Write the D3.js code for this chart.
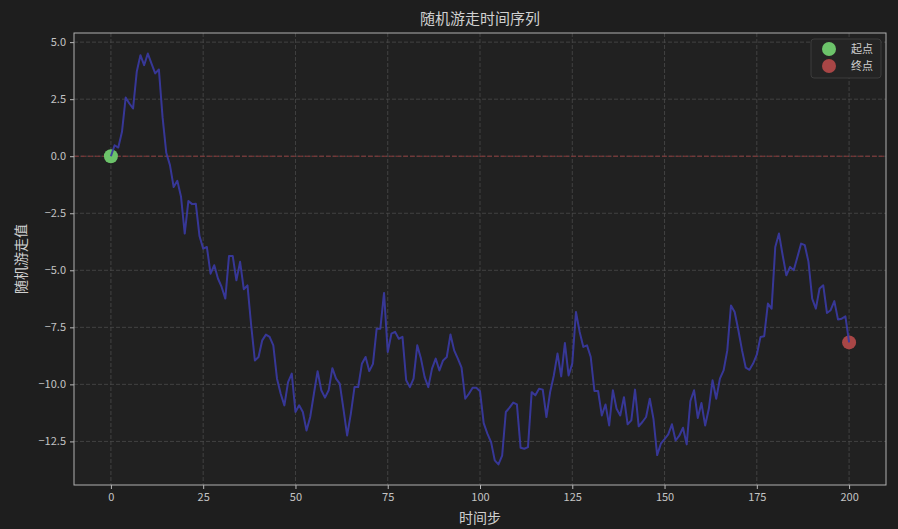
<!DOCTYPE html>
<html><head><meta charset="utf-8">
<script src="https://cdn.jsdelivr.net/npm/d3@7/dist/d3.min.js"></script>
<style>
html,body{margin:0;padding:0;background:#1e1e1e;}
svg{display:block;}
</style></head>
<body>
<svg id="chart" width="898" height="529"></svg>
<script>
const title = "随机游走时间序列";
const xLabel = "时间步";
const yLabel = "随机游走值";
const legendLabels = ["起点", "终点"];
const xTicks = [0, 25, 50, 75, 100, 125, 150, 175, 200];
const yTicks = [5.0, 2.5, 0.0, -2.5, -5.0, -7.5, -10.0, -12.5];
const walkValues = [
  0, 0.48, 0.38, 1.07, 2.57, 2.31, 2.09, 3.7, 4.43, 3.99,
  4.5, 4.06, 3.63, 3.8, 1.7, 0.15, -0.39, -1.35, -1.08, -1.78,
  -3.39, -1.96, -2.1, -2.08, -3.5, -4.05, -3.98, -5.15, -4.78, -5.36,
  -5.73, -6.24, -4.37, -4.37, -5.44, -4.63, -5.83, -5.66, -7.41, -8.95,
  -8.8, -8.07, -7.82, -7.92, -8.29, -9.75, -10.41, -10.92, -9.9, -9.53,
  -11.21, -10.92, -11.21, -12.02, -11.43, -10.41, -9.42, -10.26, -10.58, -10.26,
  -9.29, -9.75, -9.97, -11.07, -12.24, -11.29, -10.12, -10.12, -9.1, -8.8,
  -9.42, -9.1, -7.56, -7.56, -5.99, -8.58, -7.78, -7.7, -8.0, -7.92,
  -9.82, -10.12, -9.75, -8.29, -8.87, -9.68, -10.12, -9.31, -8.87, -9.39,
  -8.95, -8.8, -7.81, -8.51, -8.87, -9.27, -10.63, -10.41, -10.15, -10.15,
  -10.3, -11.7, -12.16, -12.53, -13.33, -13.51, -13.12, -11.21, -11.02, -10.8,
  -10.88, -12.78, -12.82, -12.75, -10.34, -10.48, -10.19, -10.23, -11.43, -10.34,
  -9.61, -8.65, -9.65, -8.19, -9.61, -9.09, -6.83, -7.7, -8.36, -8.29,
  -8.8, -10.29, -10.29, -11.36, -10.88, -11.8, -10.26, -11.07, -11.36, -10.56,
  -11.75, -11.58, -10.23, -11.84, -11.65, -11.43, -10.63, -11.51, -13.1, -12.6,
  -12.4, -12.19, -11.75, -12.46, -12.25, -11.9, -12.63, -10.73, -10.26, -11.47,
  -10.82, -11.8, -11.07, -9.82, -10.63, -9.75, -9.39, -8.51, -6.54, -6.83,
  -7.63, -8.51, -9.27, -9.36, -9.09, -8.7, -7.92, -7.89, -6.46, -6.68,
  -3.98, -3.39, -4.34, -5.22, -4.85, -5.0, -4.42, -3.83, -3.9, -4.63,
  -6.24, -6.68, -5.8, -5.66, -6.87, -6.75, -6.35, -7.16, -7.12, -7.02,
  -8.16
];
const steps = walkValues.map((_, i) => i);

const font = "'Noto Sans CJK SC', 'DejaVu Sans', sans-serif";
const svg = d3.select("#chart");
const W = 898, H = 529;
const m = {left: 74, right: 898 - 886, top: 33, bottom: 529 - 485};

svg.append("rect").attr("width", W).attr("height", H).attr("fill", "#1e1e1e");
svg.append("rect").attr("x", m.left).attr("y", m.top)
  .attr("width", W - m.left - m.right).attr("height", H - m.top - m.bottom)
  .attr("fill", "#212121");

const yMin = d3.min(walkValues), yMax = d3.max(walkValues);
const pad = (yMax - yMin) * 0.05;
const x = d3.scaleLinear().domain([-10, 210]).range([m.left, W - m.right]);
const y = d3.scaleLinear().domain([yMin - pad, yMax + pad]).range([H - m.bottom, m.top]);

const fmt = v => { const s = v.toFixed(1); return v < 0 ? "\u2212" + s.slice(1) : s; };

// grid
const grid = svg.append("g");
grid.selectAll("line.gx").data(xTicks).join("line")
  .attr("x1", d => x(d)).attr("x2", d => x(d))
  .attr("y1", m.top).attr("y2", H - m.bottom)
  .attr("stroke", "#4a4a4a").attr("stroke-width", 0.8).attr("stroke-dasharray", "4,2");
grid.selectAll("line.gy").data(yTicks).join("line")
  .attr("y1", d => y(d)).attr("y2", d => y(d))
  .attr("x1", m.left).attr("x2", W - m.right)
  .attr("stroke", "#4a4a4a").attr("stroke-width", 0.8).attr("stroke-dasharray", "4,2");

// zero line
svg.append("line").attr("x1", m.left).attr("x2", W - m.right)
  .attr("y1", y(0)).attr("y2", y(0))
  .attr("stroke", "#8a3a3a").attr("stroke-width", 1).attr("stroke-dasharray", "5,2");

// axes
const xAxis = svg.append("g").attr("transform", `translate(0,${H - m.bottom})`)
  .call(d3.axisBottom(x).tickValues(xTicks).tickSize(4).tickPadding(4).tickFormat(d3.format("d")));
const yAxis = svg.append("g").attr("transform", `translate(${m.left},0)`)
  .call(d3.axisLeft(y).tickValues(yTicks).tickSize(4).tickPadding(4).tickFormat(fmt));
[xAxis, yAxis].forEach(a => {
  a.select(".domain").remove();
  a.selectAll("line").attr("stroke", "#b8b8b8");
  a.selectAll("text").attr("fill", "#c4c4c4").style("font-family", font).style("font-size", "11px");
});
// spines
svg.append("rect").attr("x", m.left).attr("y", m.top)
  .attr("width", W - m.left - m.right).attr("height", H - m.top - m.bottom)
  .attr("fill", "none").attr("stroke", "#b0b0b0").attr("stroke-width", 1);

// markers
const startEnd = [
  {i: 0, color: "#6cc36a"},
  {i: steps.length - 1, color: "#a84646"}
];
svg.selectAll("circle.pt").data(startEnd).join("circle")
  .attr("cx", d => x(steps[d.i])).attr("cy", d => y(walkValues[d.i]))
  .attr("r", 7).attr("fill", d => d.color);

// line
const line = d3.line().x((d, i) => x(steps[i])).y(d => y(d));
svg.append("path").datum(walkValues).attr("d", line)
  .attr("fill", "none").attr("stroke", "#3a3aa2").attr("stroke-opacity", 0.92)
  .attr("stroke-width", 2).attr("stroke-linejoin", "round");

// legend
const lg = svg.append("g");
lg.append("rect").attr("x", 811).attr("y", 39).attr("width", 70).attr("height", 39)
  .attr("rx", 3).attr("fill", "#242424").attr("stroke", "#3c3c3c");
legendLabels.forEach((t, k) => {
  lg.append("circle").attr("cx", 829).attr("cy", 49 + k * 17).attr("r", 7).attr("fill", startEnd[k].color);
  lg.append("text").attr("x", 851).attr("y", 49 + k * 17).attr("dy", "0.35em")
    .attr("fill", "#cfcfcf").style("font-family", font).style("font-size", "11px").text(t);
});

// titles
svg.append("text").attr("x", (m.left + W - m.right) / 2).attr("y", 24)
  .attr("text-anchor", "middle").attr("fill", "#d0d0d0")
  .style("font-family", font).style("font-size", "15px").text(title);
svg.append("text").attr("x", (m.left + W - m.right) / 2).attr("y", 523)
  .attr("text-anchor", "middle").attr("fill", "#d0d0d0")
  .style("font-family", font).style("font-size", "14px").text(xLabel);
svg.append("text").attr("transform", `translate(26,${(m.top + H - m.bottom) / 2}) rotate(-90)`)
  .attr("text-anchor", "middle").attr("fill", "#d0d0d0")
  .style("font-family", font).style("font-size", "14px").text(yLabel);
</script>
</body></html>
